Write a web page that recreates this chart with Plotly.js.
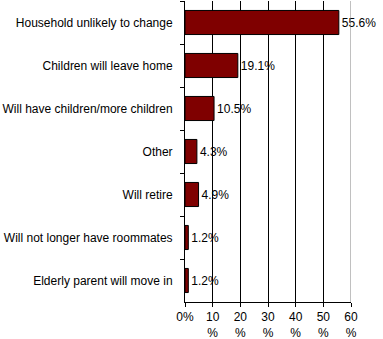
<!DOCTYPE html>
<html><head><meta charset="utf-8">
<script src="https://cdn.plot.ly/plotly-3.0.1.min.js"></script>
<style>html,body{margin:0;padding:0;background:#fff}#c{width:383px;height:339px}</style>
</head><body><div id="c"></div>
<script>
const categories = ["Household unlikely to change","Children will leave home","Will have children/more children","Other","Will retire","Will not longer have roommates","Elderly parent will move in"];
const values = [55.6, 19.1, 10.5, 4.3, 4.9, 1.2, 1.2];
const tickVals = [0,10,20,30,40,50,60];
const tickText = ["0%","10<br>%","20<br>%","30<br>%","40<br>%","50<br>%","60<br>%"];
const labels = values.map(v => v.toFixed(1) + "%");

Plotly.newPlot("c", [{
  type: "bar", orientation: "h",
  y: categories, x: values,
  text: labels, textposition: "outside", cliponaxis: false,
  textfont: {family: "Liberation Sans, Arial", size: 12, color: "#000"},
  marker: {color: "#7F0000", line: {color: "#000", width: 1}},
  width: 0.56, hoverinfo: "none"
}], {
  width: 383, height: 339,
  margin: {l: 185, r: 32, t: 1, b: 37},
  paper_bgcolor: "#fff", plot_bgcolor: "#fff",
  showlegend: false,
  font: {family: "Liberation Sans, Arial", size: 12, color: "#000"},
  xaxis: {range: [0, 60], tickvals: tickVals, ticktext: tickText, showgrid: true,
    gridcolor: "#000", gridwidth: 1, zeroline: false, showline: true, linecolor: "#000",
    ticks: "outside", ticklen: 4, tickcolor: "#000", ticklabelstandoff: 0, fixedrange: true},
  yaxis: {autorange: "reversed", ticks: "outside", tickson: "boundaries", ticklen: 4,
    tickcolor: "#000", showline: true, linecolor: "#000", showgrid: false, zeroline: false,
    ticklabelstandoff: 9, fixedrange: true},
  shapes: [{type: "line", xref: "x", yref: "paper", x0: 60, x1: 60, y0: 0, y1: 1,
    line: {color: "#808080", width: 1}}]
}, {staticPlot: true});
</script></body></html>
